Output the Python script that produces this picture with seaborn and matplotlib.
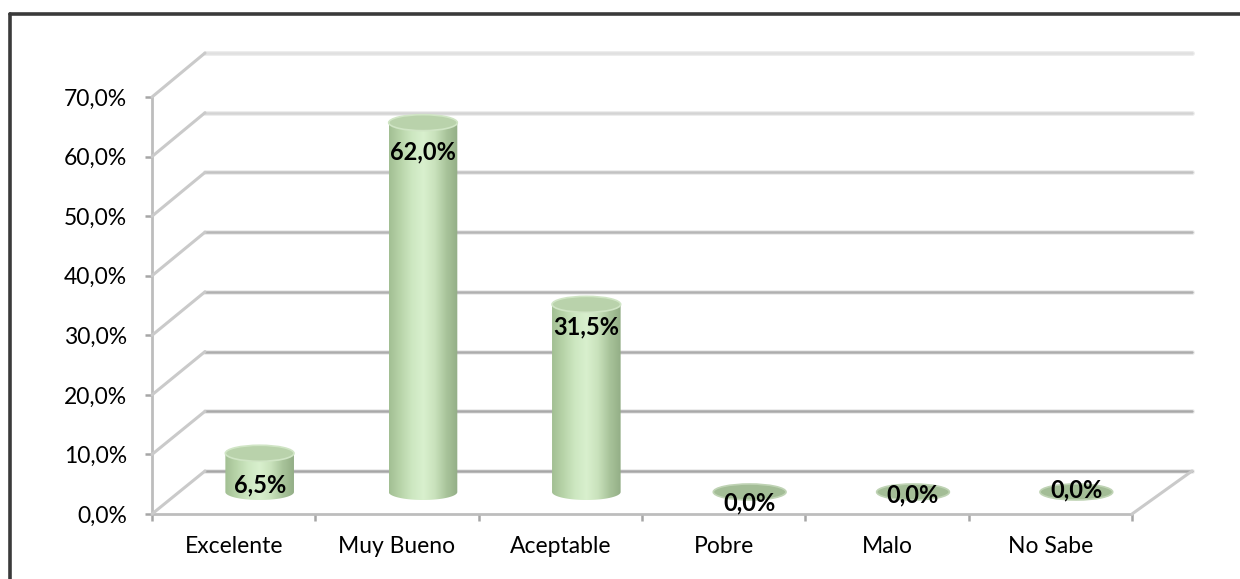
import numpy as np
import pandas as pd
import matplotlib
matplotlib.use("Agg")
import matplotlib.pyplot as plt
import seaborn as sns
from matplotlib.patches import Ellipse, PathPatch, ConnectionPatch
from matplotlib.path import Path
from matplotlib.lines import Line2D
from matplotlib.colors import LinearSegmentedColormap

# Survey results
categories = ["Excelente", "Muy Bueno", "Aceptable", "Pobre", "Malo", "No Sabe"]
values = [6.5, 62.0, 31.5, 0.0, 0.0, 0.0]
y_ticks = [0, 10, 20, 30, 40, 50, 60, 70]

# vertical nudge of each value label relative to the cylinder top (pixels)
label_offsets_px = [-32, -29, -23, -11, -3, 2]
# back-wall gridline shades, bottom to top
grid_colors = ["#a6a6a6", "#a9a9a9", "#acacac", "#b0b0b0", "#b6b6b6",
               "#c2c2c2", "#d4d4d4", "#e0e0e0"]


def pct(v):
    return f"{v:.1f}".replace(".", ",") + "%"


sns.set_theme(style="white")
plt.rcParams["font.family"] = ["Lato", "DejaVu Sans"]

W, H = 1240, 579
fig = plt.figure(figsize=(W / 100, H / 100), dpi=100)
fig.patch.set_facecolor("white")


def box(x0, y0, x1, y1):
    """Pixel box (origin top-left) -> figure-fraction rect."""
    return [x0 / W, 1 - y1 / H, (x1 - x0) / W, (y1 - y0) / H]


# back wall, front axis plane, and the mid-depth plane holding the cylinders
ax_back = fig.add_axes(box(205, 53, 1192, 471))
ax = fig.add_axes(box(152, 97, 1132, 514))
ax_bar = fig.add_axes(box(178, 75, 1158, 492))
for a in (ax_back, ax, ax_bar):
    a.set_facecolor("none")

# ---- back wall gridlines
ax_back.set_xlim(0, 1)
ax_back.set_ylim(0, 70)
ax_back.axis("off")
for v, c in zip(y_ticks, grid_colors):
    ax_back.axhline(v, color="#ededed", lw=3.6, clip_on=False, zorder=1)
    ax_back.axhline(v, color=c, lw=1.8, clip_on=False, zorder=2)

# ---- front axis plane
ax.set_xlim(-0.5, len(categories) - 0.5)
ax.set_ylim(0, 70)
for s in ("top", "right"):
    ax.spines[s].set_visible(False)
for s in ("left", "bottom"):
    ax.spines[s].set_color("#bdbdbd")
    ax.spines[s].set_linewidth(2.0)
ax.set_yticks(y_ticks)
ax.set_yticklabels([pct(v) for v in y_ticks])
ax.set_xticks(range(len(categories)))
ax.set_xticklabels(categories)
ax.set_xticks(np.arange(-0.5, len(categories), 1.0), minor=True)
ax.tick_params(axis="y", which="major", left=True, length=5, width=1.8,
               color="#a6a6a6", pad=13, labelsize=16.5, labelcolor="black")
ax.tick_params(axis="x", which="major", bottom=True, length=0, pad=16,
               labelsize=16.5, labelcolor="black")
ax.tick_params(axis="x", which="minor", bottom=True, length=5, width=1.8,
               color="#a6a6a6")
ax.grid(False)

# side-wall diagonals joining the front axis to the back wall
for v in y_ticks:
    con = ConnectionPatch(xyA=(-0.5, v), coordsA=ax.transData,
                          xyB=(0, v), coordsB=ax_back.transData,
                          color="#cacaca", lw=2.2, zorder=0.5)
    fig.add_artist(con)
floor_edge = ConnectionPatch(xyA=(len(categories) - 0.5, 0), coordsA=ax.transData,
                             xyB=(1, 0), coordsB=ax_back.transData,
                             color="#cacaca", lw=2.2, zorder=0.5)
fig.add_artist(floor_edge)

# ---- cylinders
df = pd.DataFrame({"categoria": categories, "porcentaje": values})
sns.barplot(data=df, x="categoria", y="porcentaje", ax=ax_bar, width=0.42,
            color="#c3deb4", order=categories)
ax_bar.set_xlim(-0.5, len(categories) - 0.5)
ax_bar.set_ylim(0, 70)
ax_bar.axis("off")

px_per_unit = (492 - 75) / 70.0
b = 8.0 / px_per_unit          # half-height of the cylinder ellipses
body_cmap = LinearSegmentedColormap.from_list(
    "cyl", ["#a2bf93", "#b8d4a9", "#cde7c1", "#d9f0ce", "#c9e2bc", "#a9c49b", "#93ae86"])
grad = np.linspace(0, 1, 256).reshape(1, -1)

for patch, v in zip(list(ax_bar.patches), values):
    x0 = patch.get_x()
    w = patch.get_width()
    h = patch.get_height()
    cx = x0 + w / 2
    a = w / 2
    patch.set_visible(False)
    if h > 0:
        theta = np.linspace(np.pi, 2 * np.pi, 60)
        verts = [(x0, h), (x0, 0)]
        verts += [(cx + a * np.cos(t), b * np.sin(t)) for t in theta]
        verts += [(x0 + w, h), (x0, h)]
        codes = [Path.MOVETO] + [Path.LINETO] * (len(verts) - 2) + [Path.CLOSEPOLY]
        clip = PathPatch(Path(verts, codes), transform=ax_bar.transData,
                         facecolor="none", edgecolor="none", clip_on=False)
        ax_bar.add_patch(clip)
        im = ax_bar.imshow(grad, cmap=body_cmap, aspect="auto",
                           extent=(x0, x0 + w, -b, h), zorder=2,
                           interpolation="bilinear")
        im.set_clip_box(fig.bbox)
        im.set_clip_path(clip)
        top = Ellipse((cx, h), width=w, height=2 * b, facecolor="#b9d2ab",
                      edgecolor="#d0e5c5", lw=1.2, zorder=3)
        ax_bar.add_patch(top)
    else:
        flat = Ellipse((cx, 0), width=w * 1.06, height=2.0 * b,
                       facecolor="#a3bd96", edgecolor="#bfd3b4", lw=1.2,
                       zorder=3, clip_on=False)
        ax_bar.add_patch(flat)

ax_bar.set_xlim(-0.5, len(categories) - 0.5)
ax_bar.set_ylim(0, 70)

for i, (v, off) in enumerate(zip(values, label_offsets_px)):
    ax_bar.annotate(pct(v), xy=(i, v), xytext=(0, off * 0.72),
                    textcoords="offset points", ha="center", va="center",
                    fontsize=17, fontweight="bold", color="black",
                    zorder=5, annotation_clip=False)

# ---- chart frame
fig.add_artist(Line2D([10 / W, 1], [1 - 14 / H, 1 - 14 / H],
                      transform=fig.transFigure, color="#3a3a3a", lw=2.6))
fig.add_artist(Line2D([10 / W, 10 / W], [0, 1 - 14 / H],
                      transform=fig.transFigure, color="#3a3a3a", lw=2.6))

fig.savefig("out.png", dpi=100, facecolor="white")
